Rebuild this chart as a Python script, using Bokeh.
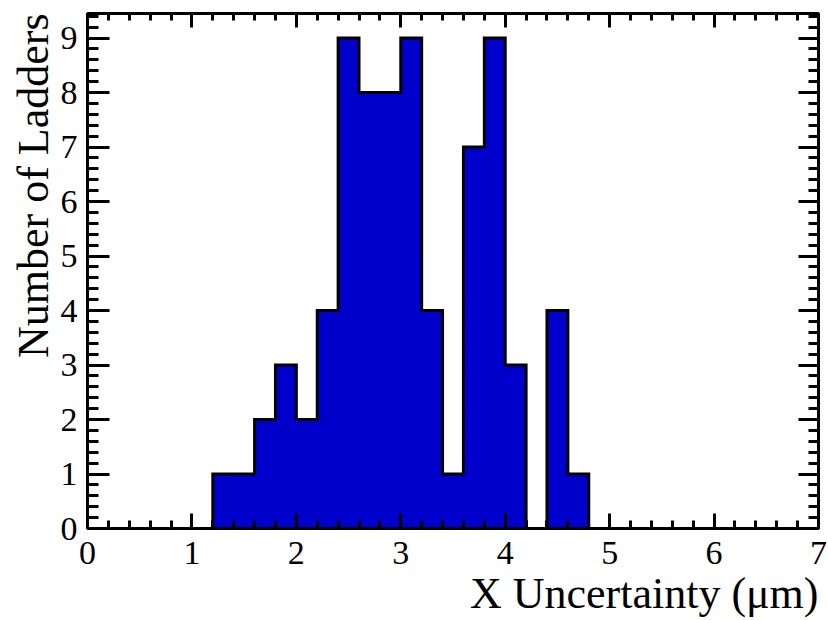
import numpy as np
from bokeh.plotting import figure
from bokeh.models import LinearAxis, SingleIntervalTicker, Title, Range1d
from bokeh.embed import file_html
from bokeh.resources import INLINE

# Data (bin lower edges, width 0.2)
bin_lo = [1.2, 1.4, 1.6, 1.8, 2.0, 2.2, 2.4, 2.6, 2.8, 3.0, 3.2, 3.4, 3.6, 3.8, 4.0, 4.2, 4.4, 4.6]
counts = [1, 1, 2, 3, 2, 4, 9, 8, 8, 9, 4, 1, 7, 9, 3, 0, 4, 1]
bin_width = 0.2
x_title = "X Uncertainty (μm)"
y_title = "Number of Ladders"

FONT = "Liberation Serif"
FILL = "#0000cc"

p = figure(width=828, height=620, x_range=Range1d(0, 7), y_range=Range1d(0, 9.45),
           output_backend="svg", toolbar_location=None,
           min_border_left=87, min_border_right=10, min_border_top=13, min_border_bottom=92,
           x_axis_location=None, y_axis_location=None)
p.xgrid.visible = False
p.ygrid.visible = False
p.outline_line_color = "black"
p.outline_line_width = 3
p.background_fill_color = "white"
p.border_fill_color = "white"

hi_edge = bin_lo[-1] + bin_width
xs = [bin_lo[0]] + bin_lo + [hi_edge]
ys = [0] + counts + [0]

p.varea_step(x=xs, y1=[0] * len(xs), y2=ys, step_mode="after", fill_color=FILL)
p.step(x=xs, y=ys, mode="after", line_color="black", line_width=3, line_join="miter")


def style_axis(ax, major_in, minor_in, labels=True):
    ax.ticker = SingleIntervalTicker(interval=1, num_minor_ticks=5)
    ax.axis_line_color = "black"
    ax.axis_line_width = 3
    ax.major_tick_in = major_in
    ax.major_tick_out = 0
    ax.minor_tick_in = minor_in
    ax.minor_tick_out = 0
    ax.major_tick_line_width = 3
    ax.minor_tick_line_width = 3
    ax.major_tick_line_color = "black"
    ax.minor_tick_line_color = "black"
    if labels:
        ax.major_label_text_font = FONT
        ax.major_label_text_font_size = "34px"
        ax.major_label_text_color = "black"
    else:
        ax.major_label_text_font_size = "0px"
        ax.major_label_text_alpha = 0
        ax.major_label_standoff = 0


xb = LinearAxis()
style_axis(xb, 15, 8)
xb.major_label_standoff = 13
p.add_layout(xb, "below")

yl = LinearAxis()
style_axis(yl, 22, 11)
yl.major_label_standoff = 10
yl.major_label_orientation = "horizontal"
p.add_layout(yl, "left")

xt = LinearAxis()
style_axis(xt, 14, 7, labels=False)
p.add_layout(xt, "above")

yr = LinearAxis()
style_axis(yr, 20, 10, labels=False)
p.add_layout(yr, "right")

tx = Title(text=x_title, align="right", text_font=FONT, text_font_size="44px",
           text_font_style="normal", text_color="black", standoff=0, offset=0)
p.add_layout(tx, "below")
ty = Title(text=y_title, align="right", text_font=FONT, text_font_size="44px",
           text_font_style="normal", text_color="black", standoff=0, offset=0)
p.add_layout(ty, "left")

open("out.html", "w").write(file_html(p, INLINE))
